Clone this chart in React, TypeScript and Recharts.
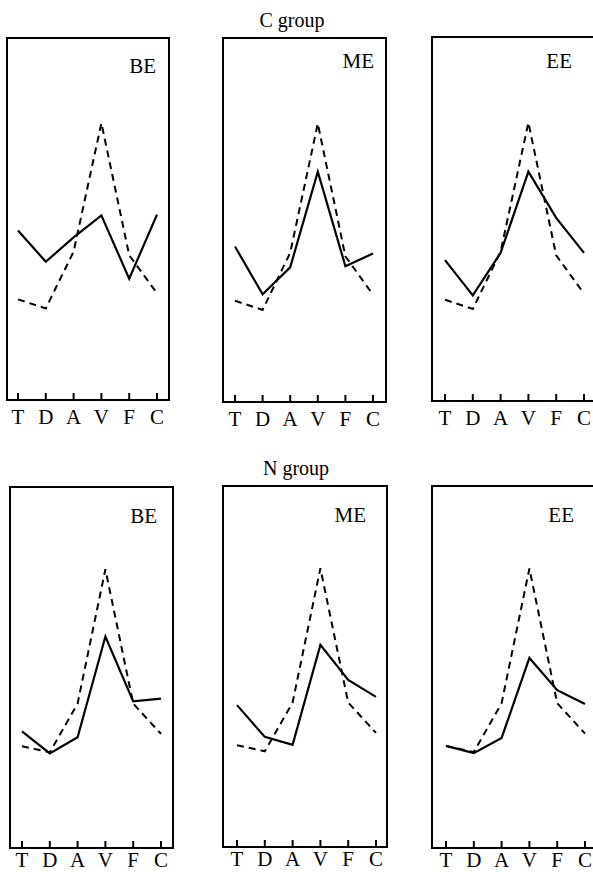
import React from 'react';
import { LineChart, Line, XAxis, YAxis } from 'recharts';

const categories = ['T', 'D', 'A', 'V', 'F', 'C'];

const cReference = [27.8, 25.3, 41, 76.5, 40, 29.5];
const nReference = [28.2, 26.5, 40, 77.2, 40, 31.6];

const cBE = [46.8, 38.2, 44.9, 51, 33.5, 51.2];
const cME = [42.7, 29.6, 37, 63.3, 37.3, 40.8];
const cEE = [38.7, 29, 40.7, 63, 50.3, 40.7];
const nBE = [32.3, 26.2, 30.7, 58.6, 40.6, 41.4];
const nME = [39.3, 30.5, 28.3, 56, 46.3, 41.6];
const nEE = [28.2, 26.2, 30.4, 52.5, 43.6, 39.8];

const groupTitles = ['C group', 'N group'];
const panelLabels = ['BE', 'ME', 'EE'];

const FONT = '"Liberation Serif", "DejaVu Serif", serif';
const M = 6;
const AXIS_H = 40;

type PanelCfg = {
  solid: number[];
  ref: number[];
  left: number;
  top: number;
  w: number;
  h: number;
  padL: number;
  padR: number;
  labelDy: number;
};

const panels: PanelCfg[] = [
  { solid: cBE, ref: cReference, left: 7, top: 38, w: 162, h: 362, padL: 11, padR: 12, labelDy: 24 },
  { solid: cME, ref: cReference, left: 223, top: 38, w: 163, h: 364, padL: 12, padR: 13, labelDy: 24 },
  { solid: cEE, ref: cReference, left: 432, top: 37, w: 163, h: 364, padL: 13, padR: 11, labelDy: 24 },
  { solid: nBE, ref: nReference, left: 10, top: 487, w: 163, h: 361, padL: 12, padR: 12, labelDy: 19 },
  { solid: nME, ref: nReference, left: 223, top: 486, w: 164, h: 361, padL: 14, padR: 11, labelDy: 19 },
  { solid: nEE, ref: nReference, left: 432, top: 486, w: 163, h: 362, padL: 14, padR: 10, labelDy: 19 },
];

const labelPos = [
  { x: 156, y: 73 },
  { x: 374, y: 68 },
  { x: 572, y: 68 },
  { x: 157, y: 523 },
  { x: 366, y: 522 },
  { x: 574, y: 522 },
];

const titlePos = [
  { x: 292, y: 27 },
  { x: 296, y: 475 },
];

const makeTick = (dy: number) => (props: any) => {
  const { x, y, payload } = props;
  return (
    <g>
      <line x1={x} y1={y - 7} x2={x} y2={y} stroke="#000" strokeWidth={2} />
      <text x={x} y={y + dy} textAnchor="middle" fontFamily={FONT} fontSize={21} fill="#000">
        {payload.value}
      </text>
    </g>
  );
};

function Panel({ cfg }: { cfg: PanelCfg }) {
  const data = categories.map((c, i) => ({ cat: c, solid: cfg.solid[i], ref: cfg.ref[i] }));
  const TickC = makeTick(cfg.labelDy);
  return (
    <>
      <div style={{ position: 'absolute', left: cfg.left - M, top: cfg.top - M }}>
        <LineChart
          width={cfg.w + 2 * M}
          height={cfg.h + M + AXIS_H}
          data={data}
          margin={{ top: M, right: M, bottom: 0, left: M }}
        >
          <XAxis
            dataKey="cat"
            orientation="bottom"
            padding={{ left: cfg.padL, right: cfg.padR }}
            axisLine={false}
            tickLine={false}
            tickSize={0}
            tickMargin={0}
            interval={0}
            height={AXIS_H}
            tick={<TickC />}
          />
          <YAxis domain={[0, 100]} hide />
          <Line
            type="linear"
            dataKey="ref"
            stroke="#000"
            strokeWidth={2}
            strokeDasharray="7 5"
            dot={false}
            isAnimationActive={false}
          />
          <Line
            type="linear"
            dataKey="solid"
            stroke="#000"
            strokeWidth={2.2}
            dot={false}
            isAnimationActive={false}
          />
        </LineChart>
      </div>
      <div
        style={{
          position: 'absolute',
          left: cfg.left - 1,
          top: cfg.top - 1,
          width: cfg.w + 2,
          height: cfg.h + 2,
          boxSizing: 'border-box',
          border: '2px solid #000',
          pointerEvents: 'none',
        }}
      />
    </>
  );
}

export default function App() {
  return (
    <div style={{ position: 'absolute', left: 0, top: 0, width: 593, height: 872, overflow: 'hidden', background: '#fff' }}>
      {panels.map((p, i) => (
        <Panel key={i} cfg={p} />
      ))}
      <svg width={593} height={872} style={{ position: 'absolute', left: 0, top: 0, pointerEvents: 'none' }}>
        {titlePos.map((t, i) => (
          <text key={'t' + i} x={t.x} y={t.y} textAnchor="middle" fontFamily={FONT} fontSize={20} fill="#000">
            {groupTitles[i]}
          </text>
        ))}
        {labelPos.map((l, i) => (
          <text key={'l' + i} x={l.x} y={l.y} textAnchor="end" fontFamily={FONT} fontSize={21} fill="#000">
            {panelLabels[i % 3]}
          </text>
        ))}
      </svg>
    </div>
  );
}
